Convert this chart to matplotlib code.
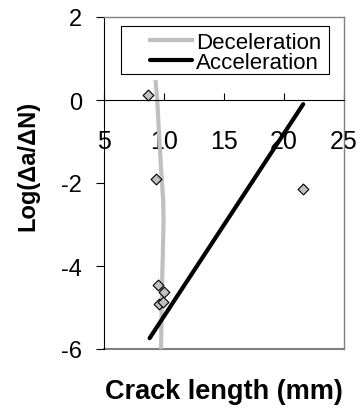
import numpy as np
import matplotlib
matplotlib.use('Agg')
import matplotlib.pyplot as plt
from matplotlib.patches import Rectangle

plt.rcParams['font.family'] = ['Liberation Sans', 'DejaVu Sans']
plt.rcParams['axes.unicode_minus'] = False

# measured points (crack length mm, log da/dN)
pts_x = [8.7, 9.33, 21.55, 9.47, 10.0, 9.55, 9.9]
pts_y = [0.12, -1.91, -2.15, -4.46, -4.62, -4.92, -4.87]

# deceleration trend (gray curve)
dec_x = [9.31, 9.44, 9.62, 9.81, 9.93, 9.96, 9.92, 9.86, 9.80, 9.75]
dec_y = [0.43, -0.02, -1.0, -1.90, -2.4, -2.9, -3.5, -4.2, -5.1, -6.12]

# acceleration trend (black line)
acc_x = [8.8, 21.6]
acc_y = [-5.74, -0.10]

xticks = [5, 10, 15, 20, 25]
yticks = [-6, -4, -2, 0, 2]

fig = plt.figure(figsize=(3.63, 4.14), dpi=100)
ax = fig.add_axes([104/363, 1 - 350/414, 240/363, 332/414])

ax.plot(dec_x, dec_y, color='#c0c0c0', lw=3, label='Deceleration', zorder=2)
ax.plot(acc_x, acc_y, color='black', lw=3, label='Acceleration', zorder=3,
        solid_capstyle='round')
ax.scatter(pts_x, pts_y, marker='D', s=30, facecolor='#c0c0c0',
           edgecolor='black', linewidth=0.8, zorder=4)

ax.set_xlim(5, 25)
ax.set_ylim(-6, 2)
ax.set_xticks(xticks)
ax.set_yticks(yticks)

# x axis crosses at 0
ax.spines['bottom'].set_position(('data', 0))
ax.spines['bottom'].set_color('black')
ax.spines['bottom'].set_linewidth(0.8)
ax.spines['left'].set_color('black')
ax.spines['left'].set_linewidth(0.8)
for s in ['top', 'right']:
    ax.spines[s].set_color('#808080')
    ax.spines[s].set_linewidth(1)
ax.plot([0, 1], [0, 0], transform=ax.transAxes, color='#808080', lw=1.5,
        clip_on=False, zorder=1)

ax.tick_params(axis='x', direction='in', length=5, width=0.8, labelsize=18,
               pad=21)
ax.tick_params(axis='y', direction='out', length=6, width=0.8, labelsize=17,
               pad=10)

fig.text(28/363, 1 - 166/414, 'Log(\u0394a/\u0394N)', fontsize=17,
         fontweight='bold', ha='center', va='center', rotation=90)
fig.text(224/363, 1 - 392/414, 'Crack length (mm)', fontsize=19.5,
         fontweight='bold', ha='center', va='center')

# legend box
ax.add_patch(Rectangle((17/240, 275/332), 208/240, 48/332,
                       transform=ax.transAxes, facecolor='white',
                       edgecolor='black', lw=0.8, zorder=5))
leg = ax.legend(loc='upper left', bbox_to_anchor=(44/240, 1 - 13/332),
                fontsize=16, frameon=False, handlelength=1.9,
                handletextpad=0.15, borderpad=0.1, labelspacing=-0.05,
                borderaxespad=0)
leg.set_zorder(6)

fig.savefig('out.png', dpi=100)
